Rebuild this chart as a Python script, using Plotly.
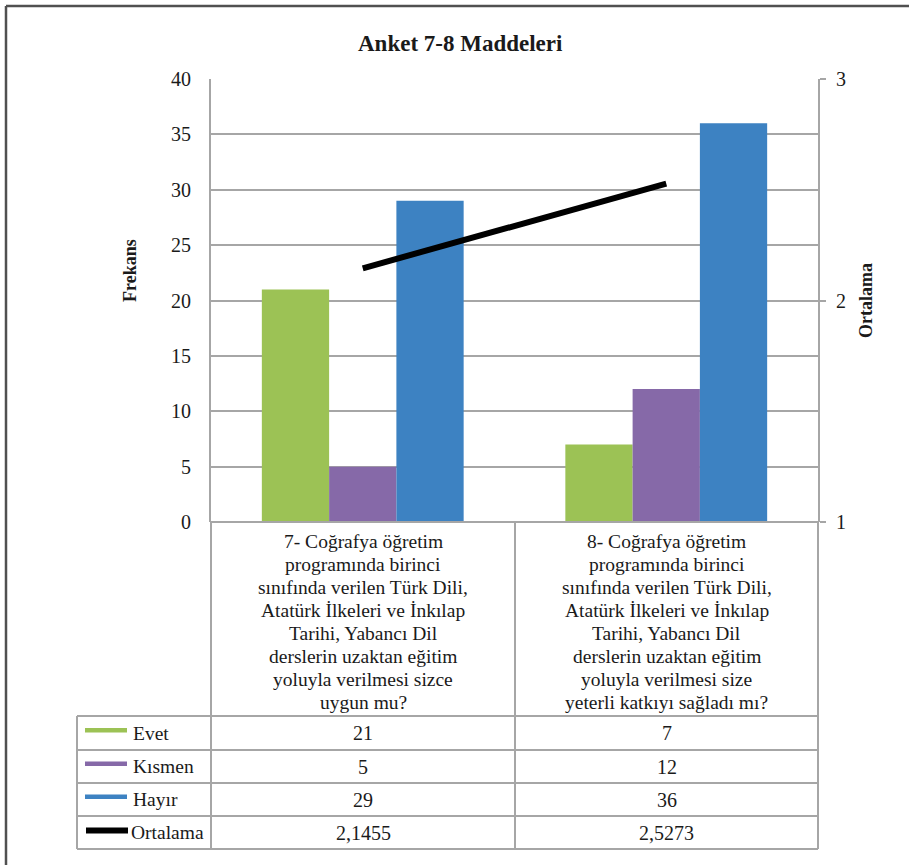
import plotly.graph_objects as go

# Survey items 7 and 8: answer frequencies and mean scores
question_lines = [
    ["7- Coğrafya öğretim", "programında birinci", "sınıfında verilen Türk Dili,",
     "Atatürk İlkeleri ve İnkılap", "Tarihi, Yabancı Dil", "derslerin uzaktan eğitim",
     "yoluyla verilmesi sizce", "uygun mu?"],
    ["8- Coğrafya öğretim", "programında birinci", "sınıfında verilen Türk Dili,",
     "Atatürk İlkeleri ve İnkılap", "Tarihi, Yabancı Dil", "derslerin uzaktan eğitim",
     "yoluyla verilmesi size", "yeterli katkıyı sağladı mı?"],
]
categories = ["Madde 7", "Madde 8"]
evet = [21, 7]
kismen = [5, 12]
hayir = [29, 36]
ortalama = [2.1455, 2.5273]
ortalama_labels = ["2,1455", "2,5273"]

series_names = ["Evet", "Kısmen", "Hayır"]
series_values = [evet, kismen, hayir]
series_colors = ["#9cc255", "#8669a8", "#3d82c2"]

W, H = 909, 865
FONT = "Liberation Serif"
TXT = "#1a1a1a"
GRID = "#a6a6a6"

# plot-area / table geometry in pixels
PL, PR, PT, PB = 211, 818, 79, 522
MID = 515
TL = 77
ROWS = [716, 750, 783, 816, 849]


def px(x):
    return x / W


def py(y):
    return 1 - y / H


fig = go.Figure()

for name, vals, col in zip(series_names, series_values, series_colors):
    fig.add_trace(go.Bar(
        x=categories, y=vals, name=name, marker=dict(color=col, line=dict(width=0)),
        yaxis="y", showlegend=False,
    ))

fig.add_trace(go.Scatter(
    x=categories, y=ortalama, name="Ortalama", mode="lines",
    line=dict(color="black", width=6), yaxis="y2", showlegend=False,
))

shapes = []


def hline(y, x0, x1, color=GRID, width=2):
    shapes.append(dict(type="line", xref="paper", yref="paper",
                       x0=px(x0), x1=px(x1), y0=py(y), y1=py(y),
                       line=dict(color=color, width=width)))


def vline(x, y0, y1, color=GRID, width=2):
    shapes.append(dict(type="line", xref="paper", yref="paper",
                       x0=px(x), x1=px(x), y0=py(y0), y1=py(y1),
                       line=dict(color=color, width=width)))


# outer frame (top and left edges)
hline(6, 6, W, color="#505050", width=2.5)
vline(6, 6, H, color="#505050", width=2.5)

# data table grid
hline(PB, PL, PR)
for y in ROWS:
    hline(y, TL, PR)
vline(PL, PB, ROWS[-1])
vline(MID, PB, ROWS[-1])
vline(PR, PB, ROWS[-1])
vline(TL, ROWS[0], ROWS[-1])

annotations = []

# category labels inside the table
col_centers = [(PL + MID) / 2, (MID + PR) / 2]
for cx, lines in zip(col_centers, question_lines):
    for i, line in enumerate(lines):
        annotations.append(dict(
            x=px(cx), y=py(541 + i * 23.1), xref="paper", yref="paper",
            text=line, showarrow=False, xanchor="center", yanchor="middle",
            font=dict(family=FONT, size=19.5, color=TXT),
        ))

# table rows: legend key, name, values
row_labels = series_names + ["Ortalama"]
row_values = [[str(v) for v in evet], [str(v) for v in kismen],
              [str(v) for v in hayir], ortalama_labels]
for r, (label, vals) in enumerate(zip(row_labels, row_values)):
    cy = (ROWS[r] + ROWS[r + 1]) / 2
    if r < 3:
        shapes.append(dict(type="rect", xref="paper", yref="paper",
                           x0=px(85), x1=px(127), y0=py(cy - 5), y1=py(cy - 0.5),
                           fillcolor=series_colors[r], line=dict(width=0)))
    else:
        shapes.append(dict(type="line", xref="paper", yref="paper",
                           x0=px(86), x1=px(128), y0=py(cy - 2), y1=py(cy - 2),
                           line=dict(color="black", width=6)))
    annotations.append(dict(
        x=px(129 if r == 3 else 131), y=py(cy), xref="paper", yref="paper",
        text=label, showarrow=False, xanchor="left", yanchor="middle",
        font=dict(family=FONT, size=19.5, color=TXT),
    ))
    for cx, v in zip(col_centers, vals):
        annotations.append(dict(
            x=px(cx), y=py(cy), xref="paper", yref="paper",
            text=v, showarrow=False, xanchor="center", yanchor="middle",
            font=dict(family=FONT, size=20, color=TXT),
        ))

# title and axis titles
annotations.append(dict(x=px(461), y=py(43), xref="paper", yref="paper",
                        text="<b>Anket 7-8 Maddeleri</b>", showarrow=False,
                        xanchor="center", yanchor="middle",
                        font=dict(family=FONT, size=23, color=TXT)))
annotations.append(dict(x=px(130), y=py(271), xref="paper", yref="paper",
                        text="<b>Frekans</b>", showarrow=False, textangle=-90,
                        xanchor="center", yanchor="middle",
                        font=dict(family=FONT, size=18, color=TXT)))
annotations.append(dict(x=px(866), y=py(301), xref="paper", yref="paper",
                        text="<b>Ortalama</b>", showarrow=False, textangle=-90,
                        xanchor="center", yanchor="middle",
                        font=dict(family=FONT, size=18, color=TXT)))

fig.update_layout(
    width=W, height=H, autosize=False,
    margin=dict(l=0, r=0, t=0, b=0, autoexpand=False),
    paper_bgcolor="white", plot_bgcolor="white",
    barmode="group", bargap=0.335, bargroupgap=0,
    showlegend=False,
    xaxis=dict(domain=[px(PL), px(PR)], showticklabels=False, ticks="",
               showgrid=False, zeroline=False, showline=False, automargin=False),
    yaxis=dict(domain=[py(PB), py(PT)], range=[0, 40], dtick=5,
               showgrid=True, gridcolor=GRID, gridwidth=2, zeroline=False,
               showline=True, linecolor=GRID, linewidth=2, ticks="",
               ticklabelstandoff=14, automargin=False,
               tickfont=dict(family=FONT, size=20, color=TXT)),
    yaxis2=dict(overlaying="y", side="right", anchor="x", range=[1, 3], dtick=1,
                showgrid=False, zeroline=False, showline=True, linecolor=GRID,
                linewidth=2, ticks="outside", ticklen=6, tickwidth=2, tickcolor=GRID,
                ticklabelstandoff=6, automargin=False,
                tickfont=dict(family=FONT, size=20, color=TXT)),
    shapes=shapes, annotations=annotations,
)

fig.write_html("out.html")
